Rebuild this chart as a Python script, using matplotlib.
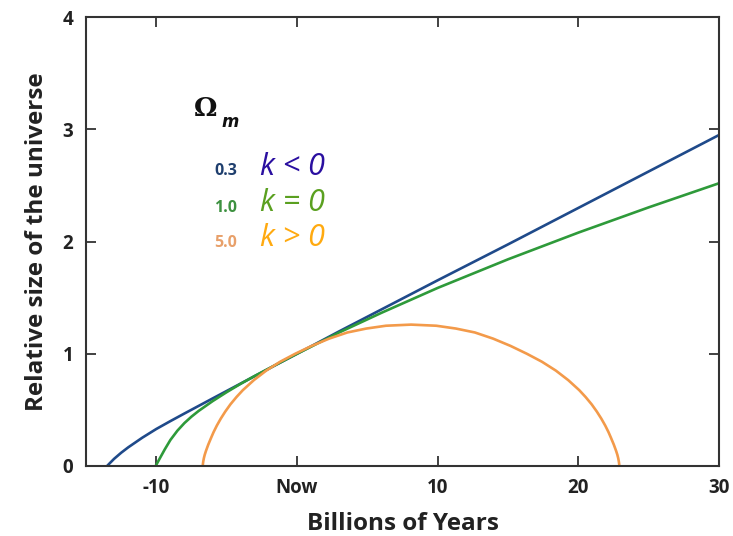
import matplotlib
matplotlib.use("Agg")
import matplotlib.pyplot as plt

# Relative size of the universe a(t), time in billions of years (0 = now)
open_t = [-13.5, -13.3, -13.0, -12.5, -12.0, -11.0, -10.0, -9.0, -8.0, -7.0,
          -6.0, -4.0, -2.0, 0.0, 3.0, 6.0, 10.0, 15.0, 20.0, 25.0, 30.0]
open_a = [0.0, 0.026, 0.064, 0.118, 0.166, 0.252, 0.33, 0.40, 0.468, 0.535,
          0.602, 0.735, 0.868, 1.0, 1.2, 1.395, 1.655, 1.975, 2.30, 2.625, 2.95]

flat_t = [-10.05, -9.7, -9.4, -9.0, -8.5, -8.0, -7.5, -7.0, -6.0, -5.0,
          -4.0, -3.0, -2.0, -1.0, 0.0, 3.0, 6.0, 10.0, 15.0, 20.0, 25.0, 30.0]
flat_a = [0.0, 0.08, 0.148, 0.232, 0.315, 0.383, 0.44, 0.49, 0.578, 0.658,
          0.733, 0.803, 0.869, 0.935, 1.0, 1.19, 1.365, 1.587, 1.842, 2.08, 2.305, 2.52]

closed_t = [-6.70, -6.687, -6.665, -6.62, -6.56, -6.47, -6.31, -6.10, -5.93, -5.70,
            -5.42, -5.10, -4.73, -4.30, -3.85, -3.07, -2.19, -1.20, -0.13, 1.04,
            2.28, 3.58, 4.93, 6.32, 8.11, 9.90, 11.29, 12.64, 13.94, 15.18,
            16.34, 17.41, 18.40, 19.28, 20.06, 20.51, 20.94, 21.31, 21.63, 21.91,
            22.14, 22.31, 22.52, 22.68, 22.77, 22.83, 22.875, 22.897, 22.91]
closed_a = [0.0, 0.02, 0.04, 0.07, 0.10, 0.135, 0.19, 0.253, 0.302, 0.36,
            0.422, 0.485, 0.55, 0.615, 0.676, 0.765, 0.85, 0.929, 1.0, 1.07,
            1.135, 1.19, 1.225, 1.25, 1.26, 1.25, 1.225, 1.19, 1.135, 1.07,
            1.0, 0.929, 0.85, 0.765, 0.676, 0.615, 0.55, 0.485, 0.422, 0.36,
            0.302, 0.253, 0.19, 0.135, 0.10, 0.07, 0.04, 0.02, 0.0]

omega_labels = ["0.3", "1.0", "5.0"]
k_labels = ["k < 0", "k = 0", "k > 0"]
x_ticks = [-10, 0, 10, 20, 30]
x_ticklabels = ["-10", "Now", "10", "20", "30"]
y_ticks = [0, 1, 2, 3, 4]

line_colors = ["#1f4a8a", "#2e9a3a", "#f39a4a"]
num_colors = ["#1f3f6e", "#3d9140", "#e8a06a"]
k_colors = ["#2a0fa0", "#5aa020", "#ffaa10"]

fig = plt.figure(figsize=(7.33, 5.36), dpi=100)
ax = fig.add_axes([0.1173, 0.1306, 0.8637, 0.8374])

ax.plot(open_t, open_a, color=line_colors[0], lw=1.9, solid_joinstyle="round")
ax.plot(flat_t, flat_a, color=line_colors[1], lw=1.9, solid_joinstyle="round")
ax.plot(closed_t, closed_a, color=line_colors[2], lw=1.9, solid_joinstyle="round")

ax.set_xlim(-15, 30)
ax.set_ylim(0, 4)
ax.set_xticks(x_ticks)
ax.set_xticklabels(x_ticklabels)
ax.set_yticks(y_ticks)

for lab in ax.get_xticklabels() + ax.get_yticklabels():
    lab.set_fontfamily("Open Sans")
    lab.set_fontweight("bold")
    lab.set_fontsize(13.5)
    lab.set_color("#222222")

ax.tick_params(direction="in", length=7, width=1.3, color="#333333",
               top=True, right=True, pad=9)
for s in ax.spines.values():
    s.set_color("#333333")
    s.set_linewidth(1.5)

ax.set_xlabel("Billions of Years", fontfamily="Open Sans", fontweight="bold",
              fontsize=17.5, color="#222222", labelpad=10)
ax.set_ylabel("Relative size of the universe", fontfamily="Open Sans",
              fontweight="bold", fontsize=17.5, color="#222222", labelpad=10)

# legend made of text
ax.text(-7.35, 3.19, "\u03a9", fontfamily="DejaVu Serif", fontweight="bold",
        fontsize=19, color="#111111", va="center", ha="left")
ax.text(-5.35, 3.07, "m", fontfamily="DejaVu Sans", fontweight="bold",
        fontstyle="italic", fontsize=12, color="#111111", va="center", ha="left")

num_y = [2.625, 2.30, 1.99]
for lab, yv, c in zip(omega_labels, num_y, num_colors):
    ax.text(-4.25, yv, lab, fontfamily="Open Sans", fontweight="bold",
            fontsize=11.5, color=c, va="center", ha="right")
for lab, yv, c in zip(k_labels, num_y, k_colors):
    ax.text(-2.6, yv + 0.04, lab, fontfamily="Open Sans", fontstyle="italic",
            fontsize=22, color=c, va="center", ha="left")

fig.savefig("out.png", dpi=100)
